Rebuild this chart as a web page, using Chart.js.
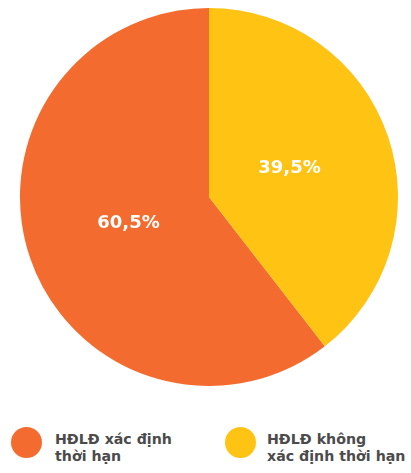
<!DOCTYPE html>
<html>
<head>
<meta charset="utf-8">
<script src="https://cdn.jsdelivr.net/npm/chart.js@4/dist/chart.umd.min.js"></script>
<style>
    html, body { margin: 0; padding: 0; background: #fff; }
    body { width: 411px; height: 473px; position: relative; overflow: hidden; font-family: "DejaVu Sans", sans-serif; }
    #pieBox { position: absolute; left: 20px; top: 8px; width: 378px; height: 378px; }
    .legendItem { position: absolute; top: 427px; }
    .legendDot { position: absolute; left: 0; top: 0; width: 31px; height: 31px; border-radius: 50%; }
    .legendText { position: absolute; top: 4px; white-space: nowrap; font-weight: 700; font-size: 14.2px; line-height: 17px; color: #4b4b4b; }
</style>
</head>
<body>
<div id="pieBox"><canvas id="pie"></canvas></div>
<div id="legend"></div>
<script>
// Data
const labels = [['HĐLĐ xác định', 'thời hạn'], ['HĐLĐ không', 'xác định thời hạn']];
const values = [60.5, 39.5];
const colors = ['#f36b2e', '#ffc314'];

const total = values[0] + values[1];

//Writes the percentages inside the slices
const sliceLabels = {
    id: 'sliceLabels',
    afterDatasetsDraw(chart) {
        const ctx = chart.ctx;
        const meta = chart.getDatasetMeta(0);
        ctx.save();
        ctx.fillStyle = '#ffffff';
        ctx.font = '700 18px "DejaVu Sans"';
        ctx.textAlign = 'center';
        ctx.textBaseline = 'middle';
        meta.data.forEach((arc, i) => {
            const p = arc.getProps(['x', 'y', 'startAngle', 'endAngle', 'outerRadius'], true);
            const mid = (p.startAngle + p.endAngle) / 2;
            const r = p.outerRadius * 0.45;
            const text = String(values[i]).replace('.', ',') + '%';
            ctx.fillText(text, p.x + Math.cos(mid) * r, p.y + Math.sin(mid) * r - 1);
        });
        ctx.restore();
    }
};

new Chart(document.getElementById('pie'), {
    type: 'pie',
    data: {
        labels: labels,
        datasets: [{
            data: values,
            backgroundColor: colors,
            borderWidth: 0
        }]
    },
    options: {
        responsive: true,
        maintainAspectRatio: false,
        animation: false,
        rotation: values[1] / total * 360,
        layout: { padding: 0 },
        plugins: {
            legend: { display: false },
            tooltip: { enabled: false }
        }
    },
    plugins: [sliceLabels]
});

//Legend under the chart
const legend = document.getElementById('legend');
const legendLeft = [11, 225];
const textLeft = [44, 42];
labels.forEach((lines, i) => {
    const item = document.createElement('div');
    item.className = 'legendItem';
    item.style.left = legendLeft[i] + 'px';
    const dot = document.createElement('div');
    dot.className = 'legendDot';
    dot.style.background = colors[i];
    const txt = document.createElement('div');
    txt.className = 'legendText';
    txt.style.left = textLeft[i] + 'px';
    lines.forEach((line, j) => {
        if (j > 0) txt.appendChild(document.createElement('br'));
        txt.appendChild(document.createTextNode(line));
    });
    item.appendChild(dot);
    item.appendChild(txt);
    legend.appendChild(item);
});
</script>
</body>
</html>
